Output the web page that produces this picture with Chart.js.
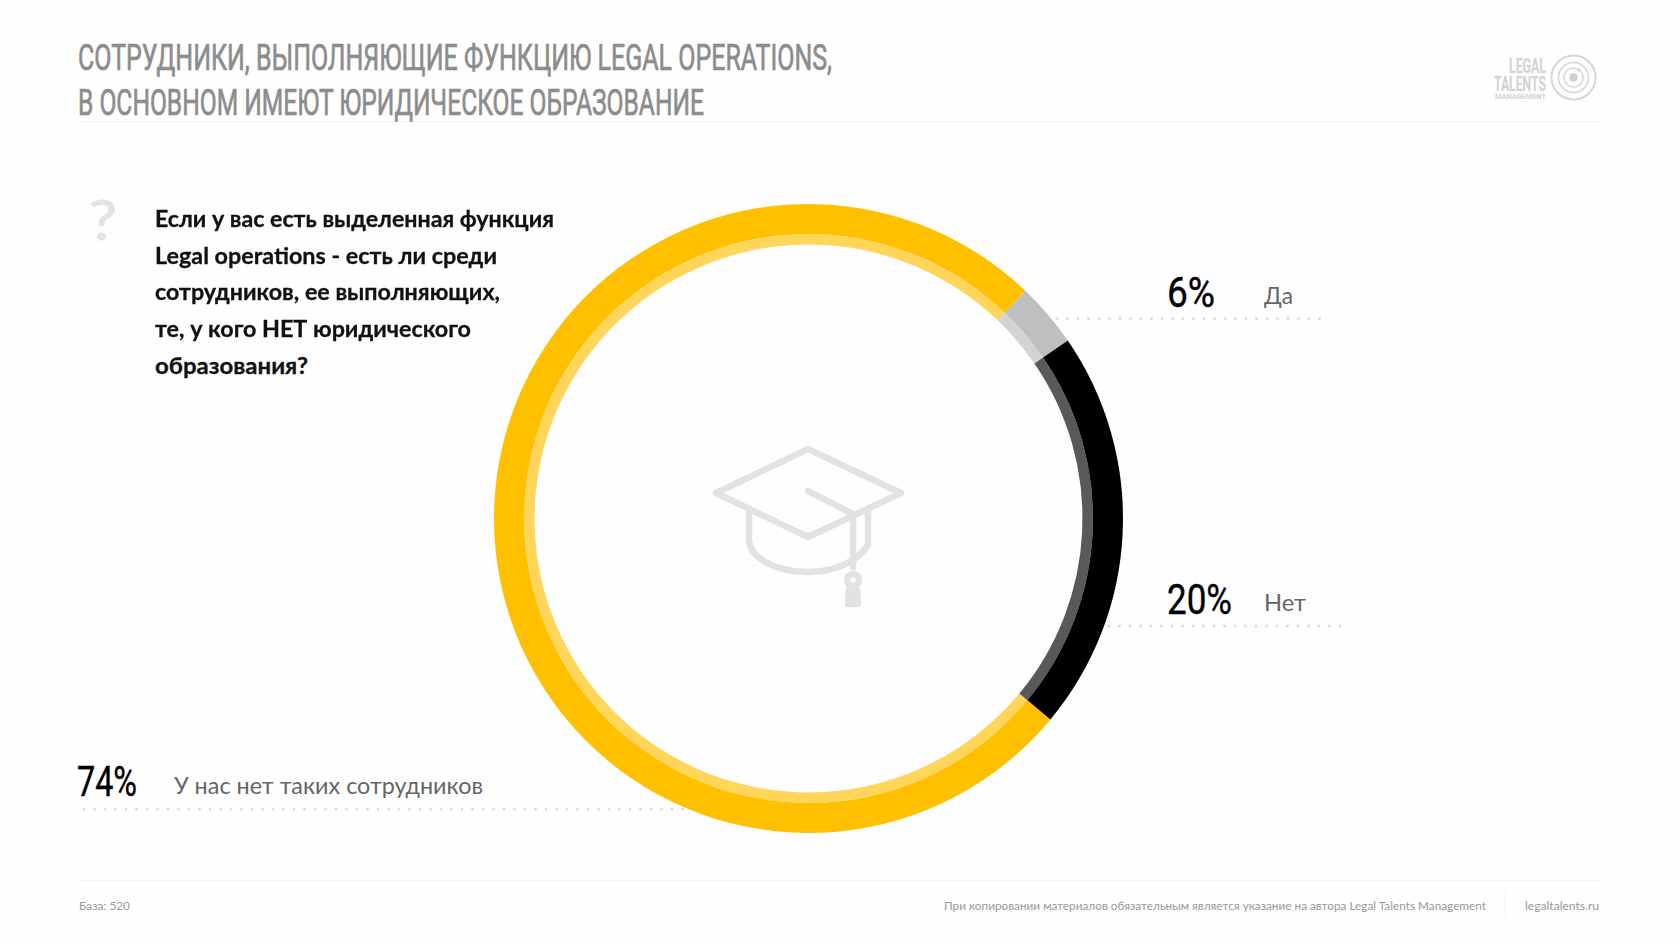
<!DOCTYPE html>
<html lang="ru">
<head>
<meta charset="utf-8">
<title>Legal operations</title>
<script src="https://cdn.jsdelivr.net/npm/chart.js@4"></script>
<style>
  html, body { margin: 0; padding: 0; background: #fefefe; }
  body { width: 1680px; height: 944px; position: relative; overflow: hidden; }
  #wrap { position: absolute; left: 488px; top: 198px; width: 641px; height: 641px; }
  .t { position: absolute; white-space: nowrap; line-height: 1; transform-origin: left top; }
  .head { font: 37px "Liberation Sans Narrow", Roboto, sans-serif; color: #8c8c8c; -webkit-text-stroke: 0.7px #8c8c8c; }
  .q { font: bold 23.5px Lato, sans-serif; color: #111; -webkit-text-stroke: 0.3px #111; }
  .pct { font: 42px "Liberation Sans Narrow", Roboto, sans-serif; color: #000; -webkit-text-stroke: 0.4px #000; }
  .lab { font: 24px Lato, sans-serif; color: #666; }
  .foot { font: 12px Lato, sans-serif; color: #999; }
  .logo { font: bold 20px "Liberation Sans Narrow", Roboto, sans-serif; color: #d2d2d2; }
  .rule { position: absolute; background: #f3f3f3; }
  svg { position: absolute; left: 0; top: 0; }
</style>
</head>
<body>
<svg width="1680" height="944" fill="none">
  <!-- dotted leaders -->
  <g stroke="#dcdcdc" stroke-width="3" stroke-linecap="round" stroke-dasharray="0 10.5">
    <path d="M1057 318.5H1323"/>
    <path d="M1109 626H1343"/>
    <path d="M84 809H686"/>
  </g>
  <!-- cap -->
  <g stroke="#e2e2e2" stroke-width="6.5" stroke-linejoin="round" stroke-linecap="round">
    <path d="M808 449L901 493L808 537L716 493Z"/>
    <path d="M808 491L853 514V567"/>
    <path d="M749 511V539C749 558 776 572 808 572C832 572 857 563 868 545V511"/>
    <circle cx="853" cy="580" r="6"/>
    <path d="M849 590L848 604H858L857 590" fill="#e2e2e2"/>
  </g>
  <!-- logo -->
  <g stroke="#d6d6d6" fill="none">
    <circle cx="1573.5" cy="77.5" r="22" stroke-width="2"/>
    <circle cx="1573.5" cy="77.5" r="15" stroke-width="1.5"/>
    <circle cx="1573.5" cy="77.5" r="9.5" stroke-width="1.5"/>
    <circle cx="1573.5" cy="77.5" r="4.3" fill="#d0d0d0" stroke="none"/>
    <circle cx="1579" cy="70" r="1.6" fill="#d0d0d0" stroke="none"/>
  </g>
</svg>

<div class="rule" style="left:78px;top:121px;width:1525px;height:1px"></div>
<div class="rule" style="left:78px;top:880px;width:1525px;height:1px"></div>
<div class="rule" style="left:1505px;top:892px;width:1px;height:24px"></div>

<div id="wrap"><canvas id="ring" width="641" height="641"></canvas></div>

<div class="t head" style="left:78px;top:36px" data-w="754">СОТРУДНИКИ, ВЫПОЛНЯЮЩИЕ ФУНКЦИЮ LEGAL OPERATIONS,</div>
<div class="t head" style="left:78px;top:81px" data-w="626">В ОСНОВНОМ ИМЕЮТ ЮРИДИЧЕСКОЕ ОБРАЗОВАНИЕ</div>

<div class="t logo" style="left:1509px;top:54px" data-w="37">LEGAL</div>
<div class="t logo" style="left:1494px;top:72px" data-w="52">TALENTS</div>
<div class="t logo" style="left:1495px;top:93px;font-size:7px" data-w="51">MANAGEMENT</div>

<div class="t" style="left:89px;top:185px;font:56px Lato,sans-serif;color:#e2e2e2;-webkit-text-stroke:1px #e2e2e2" data-w="28">?</div>

<div id="question"></div>
<div id="labels"></div>

<div class="t foot" style="left:79px;top:898px" data-w="51">База: 520</div>
<div class="t foot" style="left:944px;top:898px" data-w="542">При копировании материалов обязательным является указание на автора Legal Talents Management</div>
<div class="t foot" style="left:1525px;top:898px" data-w="74">legaltalents.ru</div>

<script>
const categories = ['У нас нет таких сотрудников', 'Да', 'Нет'];
// percentages as printed next to the ring
const printedValues = [74, 6, 20];
// share of the circle each arc really takes in the picture (it does not follow the printed numbers)
const arcValues = [76.1, 3.3, 20.6];
const outerColors = ['#ffc000', '#bfbfbf', '#000000'];
const innerColors = ['#ffd55a', '#d3d3d3', '#595959'];

const questionLines = [
  'Если у вас есть выделенная функция',
  'Legal operations - есть ли среди',
  'сотрудников, ее выполняющих,',
  'те, у кого НЕТ юридического',
  'образования?'
];
const questionWidths = [399, 342, 345, 316, 153];

// left/top of number, left/top of caption, fitted widths
const labelPos = [
  [77, 757, 60, 174, 770, 309],
  [1167, 268, 48, 1264, 280, 29],
  [1167, 575, 65, 1264, 587, 42]
];

new Chart(document.getElementById('ring').getContext('2d'), {
  type: 'doughnut',
  data: {
    labels: categories,
    datasets: [
      { data: arcValues, backgroundColor: outerColors, borderWidth: 0, weight: 30 },
      { data: arcValues, backgroundColor: innerColors, borderWidth: 0, weight: 10.5 }
    ]
  },
  options: {
    responsive: false,
    animation: false,
    rotation: 129.7,
    radius: 314.5,
    cutout: '87.12%',
    plugins: { legend: { display: false }, tooltip: { enabled: false } }
  }
});

function addText(parent, cls, text, x, y, w) {
  const d = document.createElement('div');
  d.className = 't ' + cls;
  d.style.left = x + 'px';
  d.style.top = y + 'px';
  d.dataset.w = w;
  d.textContent = text;
  parent.appendChild(d);
}

const qBox = document.getElementById('question');
questionLines.forEach((line, i) => {
  addText(qBox, 'q', line, 155, 204 + i * 36.7, questionWidths[i]);
});

const labBox = document.getElementById('labels');
categories.forEach((c, i) => {
  const p = labelPos[i];
  addText(labBox, 'pct', printedValues[i] + '%', p[0], p[1], p[2]);
  addText(labBox, 'lab', c, p[3], p[4], p[5]);
});

// squeeze every text to the width it has in the reference
document.querySelectorAll('.t').forEach(el => {
  const k = el.dataset.w / el.getBoundingClientRect().width;
  el.style.transform = 'scaleX(' + k + ')';
});
</script>
</body>
</html>
